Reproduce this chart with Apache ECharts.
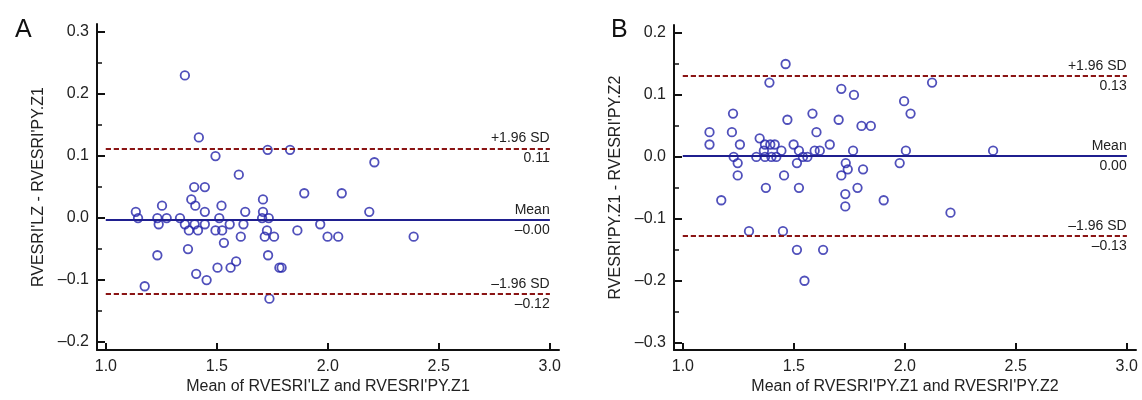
<!DOCTYPE html>
<html>
<head>
<meta charset="utf-8">
<script src="https://cdn.jsdelivr.net/npm/echarts@6/dist/echarts.min.js"></script>
<style>
  html, body { margin: 0; padding: 0; background: #fff; }
  #chart { width: 1142px; height: 400px; }
</style>
</head>
<body>
<div id="chart"></div>
<script>
// Panel A: RVESRI'LZ vs RVESRI'PY.Z1 (Bland-Altman)
const meanA = [1.135,1.145,1.175,1.232,1.238,1.232,1.253,1.274,1.334,1.356,1.356,1.370,1.374,1.385,1.398,1.400,1.403,1.407,1.415,1.419,1.446,1.446,1.446,1.454,1.494,1.494,1.503,1.511,1.521,1.524,1.532,1.558,1.562,1.587,1.599,1.608,1.620,1.628,1.704,1.708,1.708,1.716,1.726,1.729,1.731,1.734,1.737,1.758,1.782,1.792,1.830,1.863,1.894,1.966,1.999,2.047,2.063,2.187,2.210,2.387];
const diffA = [0.01,0.00,-0.11,0.00,-0.01,-0.06,0.02,0.00,0.00,0.23,-0.01,-0.05,-0.02,0.03,0.05,-0.01,0.02,-0.09,-0.02,0.13,0.05,0.01,-0.01,-0.10,0.10,-0.02,-0.08,0.00,0.02,-0.02,-0.04,-0.01,-0.08,-0.07,0.07,-0.03,-0.01,0.01,0.00,0.03,0.01,-0.03,-0.02,0.11,-0.06,0.00,-0.13,-0.03,-0.08,-0.08,0.11,-0.02,0.04,-0.01,-0.03,-0.03,0.04,0.01,0.09,-0.03];

// Panel B: RVESRI'PY.Z1 vs RVESRI'PY.Z2
const meanB = [1.120,1.120,1.173,1.221,1.226,1.229,1.247,1.247,1.257,1.298,1.331,1.346,1.365,1.370,1.370,1.374,1.390,1.394,1.399,1.414,1.421,1.444,1.451,1.456,1.463,1.471,1.499,1.514,1.514,1.523,1.523,1.541,1.548,1.561,1.584,1.594,1.602,1.617,1.632,1.662,1.702,1.714,1.714,1.732,1.732,1.734,1.743,1.767,1.771,1.787,1.805,1.812,1.847,1.905,1.977,1.997,2.005,2.026,2.123,2.206,2.398];
const diffB = [0.04,0.02,-0.07,0.04,0.07,0.00,-0.01,-0.03,0.02,-0.12,0.00,0.03,0.01,0.02,0.00,-0.05,0.12,0.02,0.00,0.02,0.00,0.01,-0.12,-0.03,0.15,0.06,0.02,-0.01,-0.15,0.01,-0.05,0.00,-0.20,0.00,0.07,0.01,0.04,0.01,-0.15,0.02,0.06,0.11,-0.03,-0.06,-0.08,-0.01,-0.02,0.01,0.10,-0.05,0.05,-0.02,0.05,-0.07,-0.01,0.09,0.01,0.07,0.12,-0.09,0.01];

// Limits of agreement: [upper, mean, lower]
const limitsA = [0.112, -0.003, -0.122];
const limitsB = [0.131, 0.002, -0.128];
const limitLabelsA = ['0.11', '\u20130.00', '\u20130.12'];
const limitLabelsB = ['0.13', '0.00', '\u20130.13'];

const xTicks = [1.0, 1.5, 2.0, 2.5, 3.0];
const yTicksA = [-0.2, -0.1, 0.0, 0.1, 0.2, 0.3];
const yMinorA = [-0.15, -0.05, 0.05, 0.15, 0.25];
const yTicksB = [-0.3, -0.2, -0.1, 0.0, 0.1, 0.2];
const yMinorB = [-0.25, -0.15, -0.05, 0.05, 0.15];

const FONT = 'Liberation Sans, Arial, sans-serif';
const AXIS_COLOR = '#111';
const TEXT_COLOR = '#222';
const fmt = v => { const s = Math.abs(v).toFixed(1); return v < -1e-9 ? '\u2013' + s : s; };

function pairs(xs, ys) { return xs.map((x, i) => [x, ys[i]]); }

function limitLines(limits, labels) {
  const sdStyle = { color: '#8a1414', width: 2, type: [5, 3] };
  const meanStyle = { color: '#1f1f8f', width: 2, type: 'solid' };
  const names = ['+1.96 SD', 'Mean', '\u20131.96 SD'];
  const data = [];
  limits.forEach((v, i) => {
    const style = i === 1 ? meanStyle : sdStyle;
    data.push([
      { coord: [1.0, v], lineStyle: style,
        label: { show: true, position: 'insideEndTop', formatter: names[i], distance: [0, 3] } },
      { coord: [3.0, v] }
    ]);
    data.push([
      { coord: [1.0, v], lineStyle: style,
        label: { show: true, position: 'insideEndBottom', formatter: labels[i], distance: [0, 3] } },
      { coord: [3.0, v] }
    ]);
  });
  return {
    silent: true,
    symbol: ['none', 'none'],
    animation: false,
    label: { fontFamily: FONT, fontSize: 14, color: TEXT_COLOR, padding: 0 },
    data: data
  };
}

function xAxisCfg(gridIndex, name) {
  return {
    type: 'value', gridIndex, min: 0.96, max: 3.042,
    name, nameLocation: 'middle', nameGap: 28,
    nameTextStyle: { fontFamily: FONT, fontSize: 16, color: TEXT_COLOR },
    axisLine: { show: true, onZero: false, lineStyle: { color: AXIS_COLOR, width: 2 } },
    axisTick: { show: true, inside: true, length: 7, customValues: xTicks, lineStyle: { color: AXIS_COLOR, width: 2 } },
    axisLabel: { customValues: xTicks, formatter: fmt, fontFamily: FONT, fontSize: 16, color: TEXT_COLOR, margin: 8 },
    splitLine: { show: false }
  };
}

function yAxisCfg(gridIndex, min, max, ticks, name) {
  return {
    type: 'value', gridIndex, min, max,
    name, nameLocation: 'middle', nameGap: 50,
    nameTextStyle: { fontFamily: FONT, fontSize: 16, color: TEXT_COLOR },
    axisLine: { show: true, onZero: false, lineStyle: { color: AXIS_COLOR, width: 2 } },
    axisTick: { show: true, inside: true, length: 8, customValues: ticks, lineStyle: { color: AXIS_COLOR, width: 2 } },
    axisLabel: { customValues: ticks, formatter: fmt, fontFamily: FONT, fontSize: 16, color: TEXT_COLOR, margin: 8 },
    splitLine: { show: false }
  };
}

function yMinorCfg(gridIndex, min, max, ticks) {
  return {
    type: 'value', gridIndex, min, max, position: 'left',
    axisLine: { show: false, onZero: false },
    axisTick: { show: true, inside: true, length: 5, customValues: ticks, lineStyle: { color: AXIS_COLOR, width: 1.5 } },
    axisLabel: { show: false },
    splitLine: { show: false }
  };
}

function scatter(xi, yi, xs, ys, limits, labels) {
  return {
    type: 'scatter', xAxisIndex: xi, yAxisIndex: yi,
    data: pairs(xs, ys),
    symbol: 'circle', symbolSize: 8.5,
    itemStyle: { color: 'rgba(255,255,255,0)', borderColor: '#2424aa', borderWidth: 1.8 },
    markLine: limitLines(limits, labels),
    z: 3
  };
}

const chart = echarts.init(document.getElementById('chart'), null, { renderer: 'canvas' });
chart.setOption({
  animation: false,
  backgroundColor: '#fff',
  grid: [
    { left: 97, right: 583, top: 24, bottom: 47 },
    { left: 674, right: 6, top: 25, bottom: 47 }
  ],
  title: [
    { text: 'A', left: 10, top: 13, textStyle: { fontFamily: FONT, fontSize: 25, fontWeight: 'normal', color: '#111' } },
    { text: 'B', left: 606, top: 13, textStyle: { fontFamily: FONT, fontSize: 25, fontWeight: 'normal', color: '#111' } }
  ],
  xAxis: [
    xAxisCfg(0, "Mean of RVESRI'LZ and RVESRI'PY.Z1"),
    xAxisCfg(1, "Mean of RVESRI'PY.Z1 and RVESRI'PY.Z2")
  ],
  yAxis: [
    yAxisCfg(0, -0.213, 0.313, yTicksA, "RVESRI'LZ - RVESRI'PY.Z1"),
    yAxisCfg(1, -0.312, 0.213, yTicksB, "RVESRI'PY.Z1 - RVESRI'PY.Z2"),
    yMinorCfg(0, -0.213, 0.313, yMinorA),
    yMinorCfg(1, -0.312, 0.213, yMinorB)
  ],
  series: [
    scatter(0, 0, meanA, diffA, limitsA, limitLabelsA),
    scatter(1, 1, meanB, diffB, limitsB, limitLabelsB)
  ]
});
</script>
</body>
</html>
